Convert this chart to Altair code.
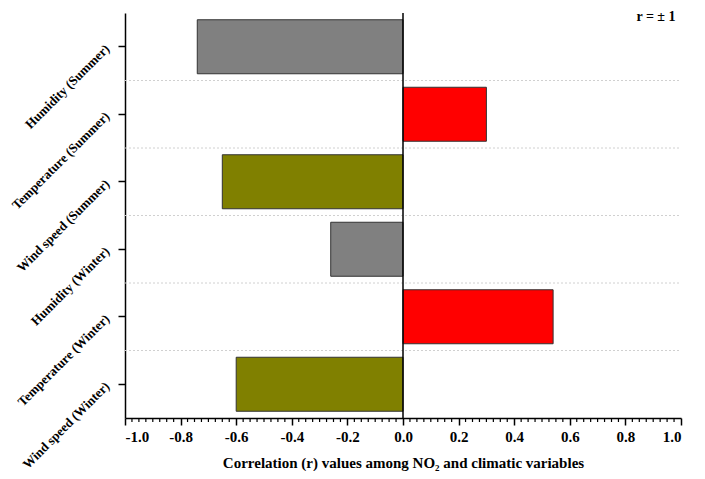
import altair as alt
import pandas as pd

categories = ["Humidity (Summer)", "Temperature (Summer)", "Wind speed (Summer)",
              "Humidity (Winter)", "Temperature (Winter)", "Wind speed (Winter)"]
values = [-0.74, 0.30, -0.65, -0.26, 0.54, -0.60]
colors = ["#808080", "#FF0000", "#808000", "#808080", "#FF0000", "#808000"]
x_ticks = [-1.0, -0.8, -0.6, -0.4, -0.2, 0.0, 0.2, 0.4, 0.6, 0.8, 1.0]
minor_ticks = [round(-1 + i * 0.025, 3) for i in range(81) if i % 8 != 0]
annotation = ["r = ± 1"]
x_title = "Correlation (r) values among NO₂ and climatic variables"

W, H = 556, 405
FONT = "Liberation Serif"

df = pd.DataFrame({"cat": categories, "value": values})
yscale = alt.Scale(domain=categories, paddingInner=0, paddingOuter=0)
xscale = alt.Scale(domain=[-1, 1], nice=False, zero=False)

xaxis = alt.Axis(values=x_ticks, title=x_title, grid=False,
                 labelExpr="replace(format(datum.value, '.1f'), '\u2212', '-')",
                 labelFont=FONT, labelFontWeight="bold", labelFontSize=15,
                 labelColor="black", labelPadding=4,
                 tickSize=7, tickWidth=1.5, tickColor="black",
                 domainColor="black", domainWidth=1.5,
                 titleFont=FONT, titleFontWeight="bold", titleFontSize=15,
                 titleColor="black", titlePadding=11)
yaxis = alt.Axis(title=None, labelAngle=-45, labelAlign="right",
                 labelBaseline="middle", labelFont=FONT,
                 labelFontWeight="bold", labelFontSize=13,
                 labelColor="black", labelPadding=11, tickSize=7,
                 tickWidth=1.5, tickColor="black",
                 domainColor="black", domainWidth=1.5, grid=False)

bars = alt.Chart(df).mark_bar(
    height=alt.RelativeBandSize(0.8), stroke="#333333", strokeWidth=1
).encode(
    x=alt.X("value:Q", scale=xscale, axis=xaxis),
    y=alt.Y("cat:N", scale=yscale, axis=yaxis),
    color=alt.Color("cat:N", scale=alt.Scale(domain=categories, range=colors), legend=None),
)

grid = alt.Chart(pd.DataFrame({"cat": categories[1:]})).mark_rule(
    color="#d0d0d0", strokeDash=[2, 2], strokeWidth=1
).encode(
    y=alt.Y("cat:N", scale=yscale, bandPosition=0, axis=yaxis),
    x=alt.value(0), x2=alt.value(W),
)

zero = alt.Chart(pd.DataFrame({"value": [0.0]})).mark_rule(color="black", strokeWidth=1.5).encode(
    x=alt.X("value:Q", scale=xscale, axis=xaxis),
    y=alt.value(0), y2=alt.value(H),
)

minor = alt.Chart(pd.DataFrame({"value": minor_ticks})).mark_rule(color="black", strokeWidth=1.2).encode(
    x=alt.X("value:Q", scale=xscale, axis=xaxis),
    y=alt.value(H), y2=alt.value(H + 4),
)

text = alt.Chart(pd.DataFrame({"label": annotation, "value": [0.91]})).mark_text(
    font=FONT, fontWeight="bold", fontSize=14, color="black", baseline="middle"
).encode(
    x=alt.X("value:Q", scale=xscale, axis=xaxis),
    y=alt.value(4),
    text="label:N",
)

chart = alt.layer(grid, bars, zero, minor, text).properties(
    width=W, height=H,
    autosize=alt.AutoSizeParams(type="none"),
    padding={"left": 117, "top": 5, "right": 16, "bottom": 53},
).configure_view(stroke=None)

chart.save("out.html", embed_options={"renderer": "svg", "actions": False})
